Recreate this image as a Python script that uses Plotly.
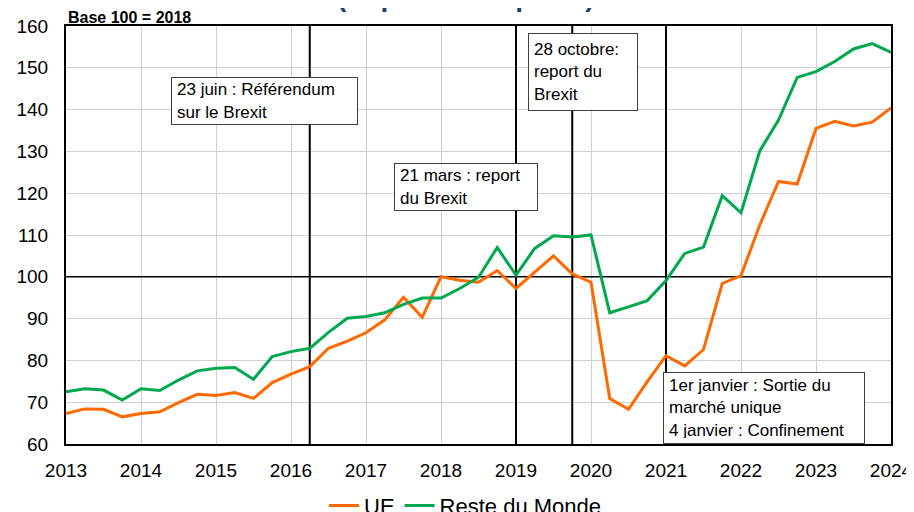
import plotly.graph_objects as go

quarters = [2013 + i * 0.25 for i in range(45)]
ue = [67.3, 68.4, 68.3, 66.5, 67.3, 67.7, 69.9, 71.9, 71.6, 72.3, 70.9, 74.7,
      76.7, 78.5, 82.9, 84.6, 86.6, 89.7, 95.1, 90.3, 100.0, 99.2, 98.7, 101.5,
      97.2, 101.1, 105.0, 100.7, 98.7, 70.9, 68.3, 74.9, 81.1, 78.7, 82.6, 98.4,
      100.3, 112.4, 122.8, 122.2, 135.5, 137.2, 136.1, 137.0, 140.4]
rdm = [72.5, 73.2, 72.9, 70.5, 73.2, 72.8, 75.3, 77.5, 78.1, 78.3, 75.5, 80.9,
       82.1, 82.9, 86.7, 90.1, 90.5, 91.4, 93.4, 94.9, 94.9, 97.2, 99.9, 107.0,
       100.4, 106.8, 109.8, 109.5, 110.0, 91.4, 92.8, 94.3, 99.1, 105.6, 107.1, 119.4,
       115.3, 130.1, 137.5, 147.7, 149.1, 151.5, 154.5, 155.8, 153.7]
years = list(range(2013, 2025))
event_x = [2016.25, 2019.0, 2019.75, 2021.0]
notes = [
    ("23 juin : Référendum<br>sur le Brexit", 2015.65, 142.1, 175, 36),
    ("21 mars : report<br>du Brexit", 2018.33, 121.5, 132, 36),
    ("28 octobre:<br>report du<br>Brexit", 2019.89, 149.0, 98, 66),
    ("1er janvier : Sortie du<br>marché unique<br>4 janvier : Confinement", 2022.31, 68.6, 190, 60),
]

FONT = "Arial, Liberation Sans, sans-serif"
fig = go.Figure()
fig.add_trace(go.Scatter(x=quarters, y=ue, mode="lines", name="UE",
                         line=dict(color="#FF6A00", width=3)))
fig.add_trace(go.Scatter(x=quarters, y=rdm, mode="lines", name="Reste du Monde",
                         line=dict(color="#00A84F", width=3)))

for ex in event_x:
    fig.add_shape(type="line", xref="x", yref="y", x0=ex, x1=ex, y0=60, y1=160,
                  line=dict(color="black", width=2), layer="between")
fig.add_shape(type="line", xref="x", yref="y", x0=2013, x1=2024, y0=100, y1=100,
              line=dict(color="black", width=1.5), layer="between")

for text, ax, ay, w, h in notes:
    fig.add_annotation(x=ax, y=ay, xref="x", yref="y", text=text, showarrow=False,
                       align="left", width=w, height=h, borderpad=5,
                       bgcolor="white", bordercolor="#404040", borderwidth=1,
                       font=dict(family=FONT, size=17, color="black"))

fig.add_annotation(x=0, y=1.0215, xref="paper", yref="paper", xanchor="left",
                   yanchor="middle", text="<b>Base 100 = 2018</b>", showarrow=False,
                   font=dict(family=FONT, size=16, color="black"))
fig.add_annotation(x=0.484, y=1.07, xref="paper", yref="paper", xanchor="center",
                   yanchor="middle", text="<b>(Exports + Imports)</b>", showarrow=False,
                   font=dict(family=FONT, size=28, color="#1F3F73"))

fig.update_layout(
    width=914, height=512,
    margin=dict(l=58, r=31, t=18, b=76, autoexpand=False),
    paper_bgcolor="white", plot_bgcolor="white",
    font=dict(family=FONT, size=19, color="black"),
    showlegend=True,
    legend=dict(orientation="h", x=0.5, xanchor="center", xref="container",
                y=0.028, yanchor="middle", yref="container",
                font=dict(size=22), tracegroupgap=0, bgcolor="rgba(0,0,0,0)"),
    xaxis=dict(range=[2013, 2024], tickvals=years, ticktext=[str(y) for y in years],
               showgrid=True, gridcolor="#D0D0D0", gridwidth=1, zeroline=False,
               showline=True, linecolor="black", linewidth=2, mirror=True,
               ticks="", ticklabelstandoff=8, automargin=False),
    yaxis=dict(range=[60, 160], dtick=10, showgrid=True, gridcolor="#D0D0D0",
               gridwidth=1, zeroline=False, showline=True, linecolor="black",
               linewidth=2, mirror=True, ticks="", ticklabelstandoff=12, automargin=False),
)
fig.write_html("out.html")
